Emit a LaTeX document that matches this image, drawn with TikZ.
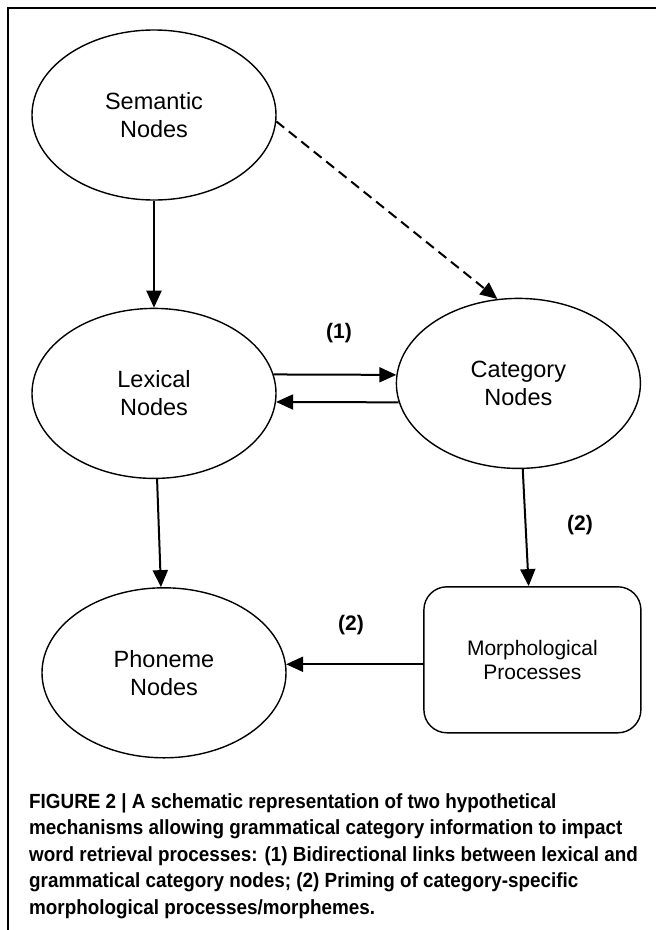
\documentclass[tikz,border=0pt]{standalone}
\usepackage{fontspec}
\setmainfont{Liberation Sans}
\newfontfamily\capfont[FakeStretch=0.92]{Liberation Sans}
\usepackage{tikz}
\usetikzlibrary{shapes.geometric, arrows.meta, positioning}

\begin{document}
\begin{tikzpicture}[x=1pt, y=1pt]
    \tikzstyle{bubble} = [ellipse, draw, line width=1.4pt, minimum width=244pt, minimum height=170pt, inner sep=0pt, align=center, font=\fontsize{23.5}{28}\selectfont]
    \tikzstyle{procbox} = [rectangle, draw, line width=1.4pt, rounded corners=23pt, minimum width=217pt, minimum height=146pt, align=center, font=\fontsize{21}{24}\selectfont]
    \tikzstyle{line} = [draw, line width=2pt, -{Triangle[length=17pt, width=15pt]}]
    \tikzstyle{tag} = [font=\bfseries\fontsize{21}{24}\selectfont]

    \useasboundingbox (0,0) rectangle (656,-930);
    \draw [line width=1.3pt] (656,-8) -- (8,-8) -- (8,-930);

    \node [bubble] (semantic) at (154,-115) {Semantic\\Nodes};
    \node [bubble, below=107pt of semantic] (lexical) {Lexical\\Nodes};
    \node [bubble, right=119pt of lexical, yshift=10pt] (category) {Category\\Nodes};
    \node [bubble, below=108pt of lexical, xshift=10pt] (phoneme) {Phoneme\\Nodes};
    \node [procbox, below=117pt of category, xshift=14pt] (morph) {Morphological\\Processes};

    \node [tag] (one) at (339,-333) {(1)};
    \node [tag] (twoa) at (580,-525) {(2)};
    \node [tag] (twob) at (351,-625) {(2)};

    \path [line] (semantic) -- (lexical);
    \path [line, dash pattern=on 10pt off 6pt] (semantic.-3) -- (category.104);
    \path [line] (lexical.9) -- (category.176);
    \path [line] (category.189) -- (lexical.-4);
    \path [line] (lexical) -- (phoneme);
    \path [line] (category) -- (morph);
    \path [line] (morph.west |- phoneme.4) -- (phoneme.4);

    \node [anchor=north west, inner sep=0pt, align=left, font=\capfont\bfseries\fontsize{20.5}{26.5}\selectfont] (caption) at (29,-793) {FIGURE 2 | A schematic representation of two hypothetical\\
mechanisms allowing grammatical category information to impact\\
word retrieval processes: (1) Bidirectional links between lexical and\\
grammatical category nodes; (2) Priming of category-specific\\
morphological processes/morphemes.};
\end{tikzpicture}
\end{document}
